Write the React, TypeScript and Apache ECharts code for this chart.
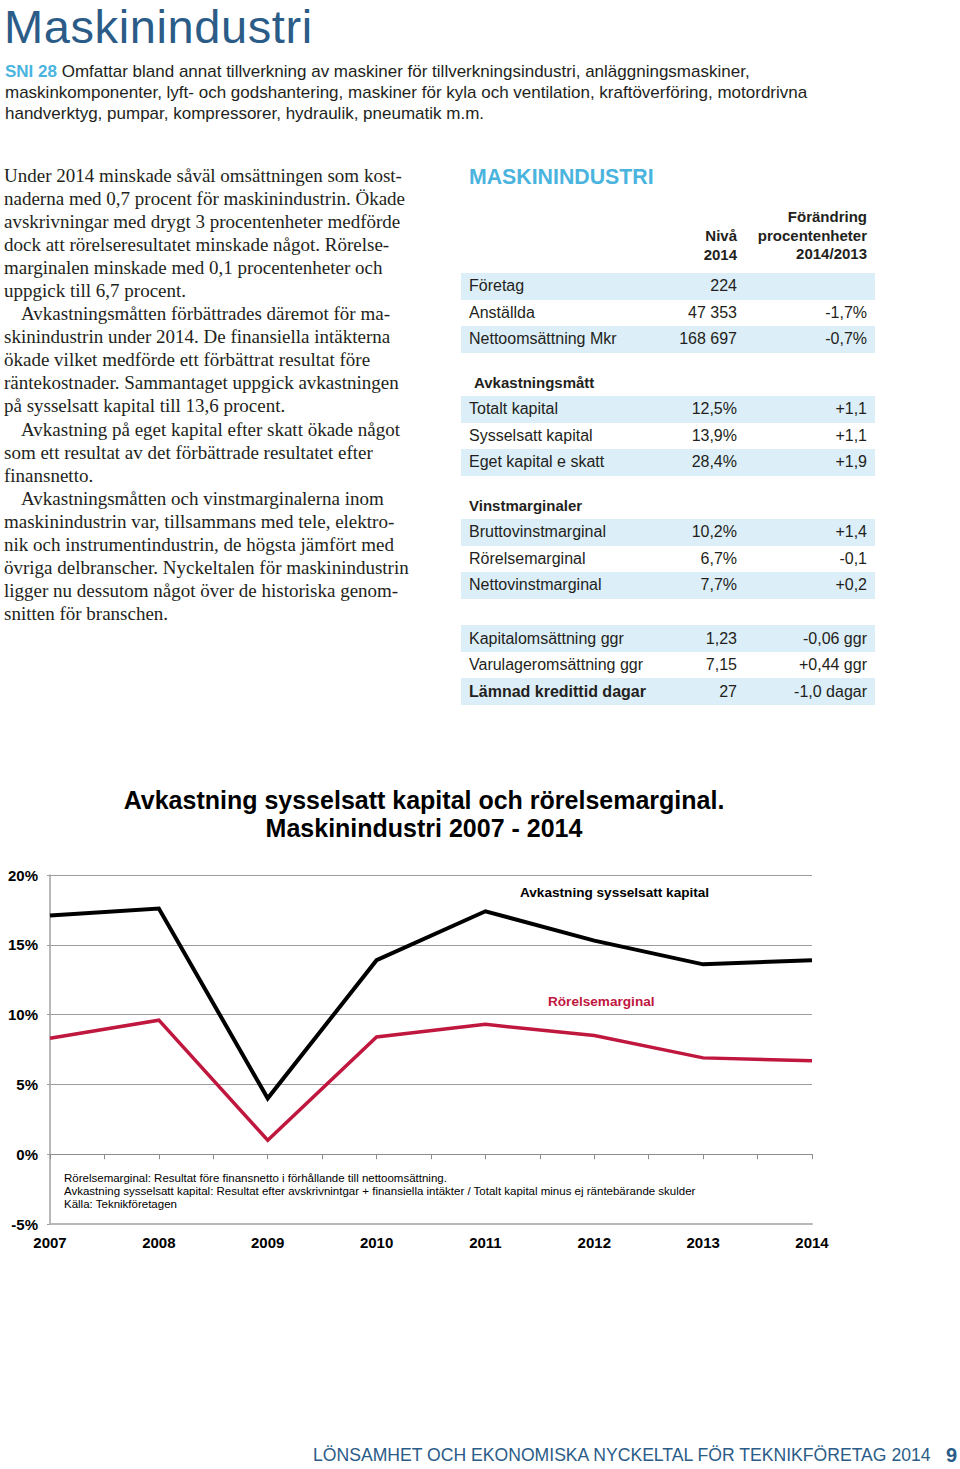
import React, { useEffect, useRef } from "react";
import * as echarts from "echarts";

// ---------- Chart data ----------
const years = [2007, 2008, 2009, 2010, 2011, 2012, 2013, 2014];
const roceValues = [17.1, 17.6, 4.0, 13.9, 17.4, 15.3, 13.6, 13.9];
const marginValues = [8.3, 9.6, 1.0, 8.4, 9.3, 8.5, 6.9, 6.7];
const yMin = -5;
const yMax = 20;
const yStep = 5;
const seriesNames = ["Avkastning sysselsatt kapital", "Rörelsemarginal"];
const chartTitleLines = [
  "Avkastning sysselsatt kapital och rörelsemarginal.",
  "Maskinindustri 2007 - 2014",
];
const footnotes = [
  "Rörelsemarginal: Resultat före finansnetto i förhållande till nettoomsättning.",
  "Avkastning sysselsatt kapital: Resultat efter avskrivnintgar + finansiella intäkter / Totalt kapital minus ej räntebärande skulder",
  "Källa: Teknikföretagen",
];

// ---------- Page text ----------
const pageTitle = "Maskinindustri";
const sniLines = [
  "Omfattar bland annat tillverkning av maskiner för tillverkningsindustri, anläggningsmaskiner,",
  "maskinkomponenter, lyft- och godshantering, maskiner för kyla och ventilation, kraftöverföring, motordrivna",
  "handverktyg, pumpar, kompressorer, hydraulik, pneumatik m.m.",
];
const bodyLines: [string, boolean][] = [
  ["Under 2014 minskade såväl omsättningen som kost-", false],
  ["naderna med 0,7 procent för maskinindustrin. Ökade", false],
  ["avskrivningar med drygt 3 procentenheter medförde", false],
  ["dock att rörelseresultatet minskade något. Rörelse-", false],
  ["marginalen minskade med 0,1 procentenheter och", false],
  ["uppgick till 6,7 procent.", false],
  ["Avkastningsmåtten förbättrades däremot för ma-", true],
  ["skinindustrin under 2014. De finansiella intäkterna", false],
  ["ökade vilket medförde ett förbättrat resultat före", false],
  ["räntekostnader. Sammantaget uppgick avkastningen", false],
  ["på sysselsatt kapital till 13,6 procent.", false],
  ["Avkastning på eget kapital efter skatt ökade något", true],
  ["som ett resultat av det förbättrade resultatet efter", false],
  ["finansnetto.", false],
  ["Avkastningsmåtten och vinstmarginalerna inom", true],
  ["maskinindustrin var, tillsammans med tele, elektro-", false],
  ["nik och instrumentindustrin, de högsta jämfört med", false],
  ["övriga delbranscher. Nyckeltalen för maskinindustrin", false],
  ["ligger nu dessutom något över de historiska genom-", false],
  ["snitten för branschen.", false],
];
const tableTitle = "MASKININDUSTRI";
const groupBasic = [
  ["Företag", "224", ""],
  ["Anställda", "47 353", "-1,7%"],
  ["Nettoomsättning Mkr", "168 697", "-0,7%"],
];
const groupReturn = [
  ["Totalt kapital", "12,5%", "+1,1"],
  ["Sysselsatt kapital", "13,9%", "+1,1"],
  ["Eget kapital e skatt", "28,4%", "+1,9"],
];
const groupMargin = [
  ["Bruttovinstmarginal", "10,2%", "+1,4"],
  ["Rörelsemarginal", "6,7%", "-0,1"],
  ["Nettovinstmarginal", "7,7%", "+0,2"],
];
const groupTurnover = [
  ["Kapitalomsättning ggr", "1,23", "-0,06 ggr"],
  ["Varulageromsättning ggr", "7,15", "+0,44 ggr"],
  ["Lämnad kredittid dagar", "27", "-1,0 dagar"],
];
const footerText = "LÖNSAMHET OCH EKONOMISKA NYCKELTAL FÖR TEKNIKFÖRETAG 2014";
const pageNumber = "9";

// ---------- Styles ----------
const SANS = "'Liberation Sans', Arial, Helvetica, sans-serif";
const SERIF = "'Liberation Serif', 'Times New Roman', serif";
const DARK_BLUE = "#2b5c88";
const LIGHT_BLUE = "#4ab4de";
const SHADE = "#dceef8";
const TEXT = "#231f20";
const RED = "#c0173f";

const abs = (s: React.CSSProperties): React.CSSProperties => ({
  position: "absolute",
  margin: 0,
  whiteSpace: "nowrap",
  ...s,
});

function TableGroup({ rows, y0, boldLast }: { rows: string[][]; y0: number; boldLast?: boolean }) {
  const pitch = 26.5;
  return (
    <>
      {rows.map((r, i) => {
        const cy = y0 + i * pitch;
        const bold = boldLast && i === rows.length - 1;
        return (
          <React.Fragment key={i}>
            {i % 2 === 0 && (
              <div style={abs({ left: 461, top: cy - 13.5, width: 414, height: 27, background: SHADE })} />
            )}
            <div style={abs({ left: 469, top: cy - 11, lineHeight: "22px", fontSize: 16, fontFamily: SANS, color: TEXT, fontWeight: bold ? "bold" : "normal" })}>{r[0]}</div>
            <div style={abs({ left: 600, width: 137, textAlign: "right", top: cy - 11, lineHeight: "22px", fontSize: 16, fontFamily: SANS, color: TEXT })}>{r[1]}</div>
            <div style={abs({ left: 740, width: 127, textAlign: "right", top: cy - 11, lineHeight: "22px", fontSize: 16, fontFamily: SANS, color: TEXT })}>{r[2]}</div>
          </React.Fragment>
        );
      })}
    </>
  );
}

function Chart() {
  const ref = useRef<HTMLDivElement>(null);
  useEffect(() => {
    if (!ref.current) return;
    const chart = echarts.init(ref.current, null, { renderer: "svg" });
    const roceData = years.map((y, i) => [y, roceValues[i]]);
    const marginData = years.map((y, i) => [y, marginValues[i]]);
    const labelFont = { fontFamily: SANS, fontWeight: "bold" as const, color: "#000" };
    chart.setOption({
      animation: false,
      grid: { left: 50, right: 148, top: 875, bottom: 245, containLabel: false },
      xAxis: [
        {
          type: "value",
          min: years[0],
          max: years[years.length - 1],
          interval: 0.5,
          position: "bottom",
          axisLine: { show: true, onZero: true, lineStyle: { color: "#8c8c8c", width: 1 } },
          axisTick: { show: true, length: 5, lineStyle: { color: "#8c8c8c", width: 1 } },
          axisLabel: { show: false },
          splitLine: { show: false },
        },
        {
          type: "value",
          min: years[0],
          max: years[years.length - 1],
          interval: 1,
          position: "bottom",
          axisLine: { show: true, onZero: false, lineStyle: { color: "#b8b8b8", width: 2 } },
          axisTick: { show: false },
          axisLabel: { show: true, margin: 11, fontSize: 15, ...labelFont, formatter: (v: number) => String(v) },
          splitLine: { show: false },
        },
      ],
      yAxis: {
        type: "value",
        min: yMin,
        max: yMax,
        interval: yStep,
        axisLine: { show: true, onZero: false, lineStyle: { color: "#a0a0a0", width: 1.5 } },
        axisTick: { show: true, length: 3, lineStyle: { color: "#a0a0a0" } },
        axisLabel: { margin: 12, fontSize: 15, ...labelFont, formatter: "{value}%" },
        splitLine: { show: true, lineStyle: { color: "#9c9c9c", width: 1 } },
      },
      series: [
        {
          name: seriesNames[0],
          type: "line",
          xAxisIndex: 0,
          data: roceData,
          symbol: "none",
          lineStyle: { color: "#000", width: 4, join: "miter" },
          z: 3,
        },
        {
          name: seriesNames[1],
          type: "line",
          xAxisIndex: 0,
          data: marginData,
          symbol: "none",
          lineStyle: { color: RED, width: 3.5, join: "miter" },
          z: 2,
        },
      ],
      graphic: [
        ...chartTitleLines.map((t, i) => ({
          type: "text",
          x: 424,
          y: 800 + i * 28,
          style: { text: t, font: `bold 25px ${SANS}`, fill: "#000", textAlign: "center", textVerticalAlign: "middle" },
        })),
        {
          type: "text",
          x: 520,
          y: 892,
          style: { text: seriesNames[0], font: `bold 13.6px ${SANS}`, fill: "#000", textAlign: "left", textVerticalAlign: "middle" },
        },
        {
          type: "text",
          x: 548,
          y: 1001,
          style: { text: seriesNames[1], font: `bold 13.6px ${SANS}`, fill: RED, textAlign: "left", textVerticalAlign: "middle" },
        },
        ...footnotes.map((t, i) => ({
          type: "text",
          x: 64,
          y: 1178 + i * 13,
          style: { text: t, font: `11.5px ${SANS}`, fill: "#000", textAlign: "left", textVerticalAlign: "middle" },
        })),
      ],
    });
    return () => chart.dispose();
  }, []);
  return <div ref={ref} style={{ position: "absolute", left: 0, top: 0, width: 960, height: 1469 }} />;
}

export default function App() {
  return (
    <div style={{ position: "absolute", left: 0, top: 0, width: 960, height: 1469, background: "#fff", overflow: "hidden" }}>
      <Chart />
      <div style={abs({ left: 4, top: 3, fontSize: 47, lineHeight: "47px", fontFamily: SANS, color: DARK_BLUE, letterSpacing: 0.6 })}>{pageTitle}</div>
      <div style={abs({ left: 5, top: 60.5, fontSize: 17, lineHeight: "21px", fontFamily: SANS, color: TEXT })}>
        <span style={{ color: LIGHT_BLUE, fontWeight: "bold" }}>SNI 28</span> {sniLines[0]}
        <br />
        {sniLines[1]}
        <br />
        {sniLines[2]}
      </div>
      <div style={abs({ left: 4, top: 163.5, fontSize: 19, lineHeight: "23.1px", fontFamily: SERIF, color: TEXT })}>
        {bodyLines.map(([t, indent], i) => (
          <div key={i} style={{ paddingLeft: indent ? 17 : 0 }}>{t}</div>
        ))}
      </div>
      <div style={abs({ left: 469, top: 165, fontSize: 21.3, lineHeight: "24px", fontFamily: SANS, fontWeight: "bold", color: LIGHT_BLUE })}>{tableTitle}</div>
      <div style={abs({ left: 600, width: 137, textAlign: "right", top: 227, fontSize: 15, lineHeight: "18.5px", fontFamily: SANS, fontWeight: "bold", color: TEXT })}>
        Nivå<br />2014
      </div>
      <div style={abs({ left: 700, width: 167, textAlign: "right", top: 208, fontSize: 15, lineHeight: "18.5px", fontFamily: SANS, fontWeight: "bold", color: TEXT })}>
        Förändring<br />procentenheter<br />2014/2013
      </div>
      <TableGroup rows={groupBasic} y0={286} />
      <div style={abs({ left: 474, top: 372, fontSize: 15, lineHeight: "22px", fontFamily: SANS, fontWeight: "bold", color: TEXT })}>Avkastningsmått</div>
      <TableGroup rows={groupReturn} y0={409} />
      <div style={abs({ left: 469, top: 495, fontSize: 15, lineHeight: "22px", fontFamily: SANS, fontWeight: "bold", color: TEXT })}>Vinstmarginaler</div>
      <TableGroup rows={groupMargin} y0={532} />
      <TableGroup rows={groupTurnover} y0={638.5} boldLast />
      <div style={abs({ left: 313, top: 1445, fontSize: 17.6, lineHeight: "20px", fontFamily: SANS, color: DARK_BLUE })}>{footerText}</div>
      <div style={abs({ left: 946, top: 1445, fontSize: 20, lineHeight: "20px", fontFamily: SANS, fontWeight: "bold", color: DARK_BLUE })}>{pageNumber}</div>
    </div>
  );
}
